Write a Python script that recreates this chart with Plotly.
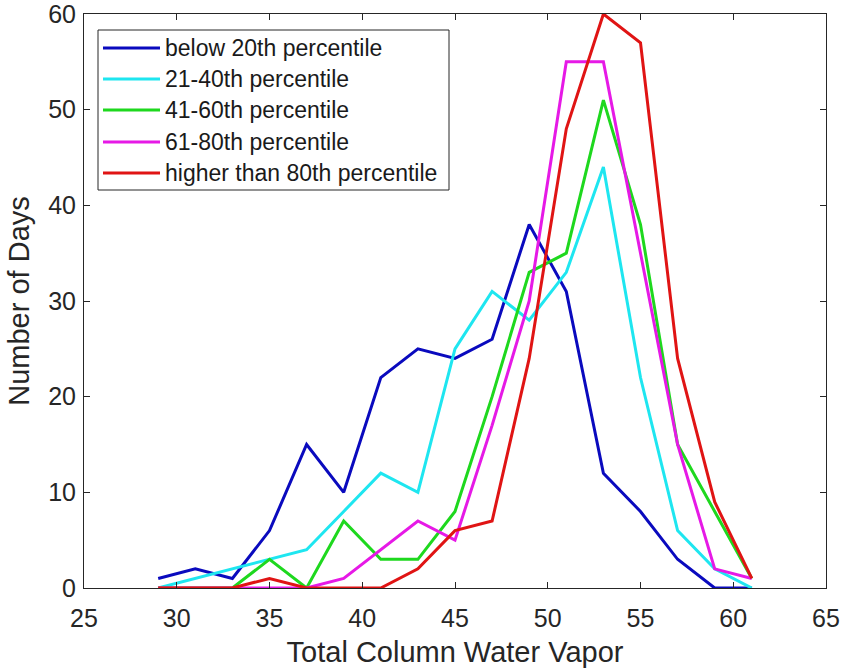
import plotly.graph_objects as go

tcwv = [29, 31, 33, 35, 37, 39, 41, 43, 45, 47, 49, 51, 53, 55, 57, 59, 61]

below20 = [1, 2, 1, 6, 15, 10, 22, 25, 24, 26, 38, 31, 12, 8, 3, 0, 0]
p21_40 = [0, 1, 2, 3, 4, 8, 12, 10, 25, 31, 28, 33, 44, 22, 6, 2, 0]
p41_60 = [0, 0, 0, 3, 0, 7, 3, 3, 8, 20, 33, 35, 51, 38, 15, 8, 1]
p61_80 = [0, 0, 0, 0, 0, 1, 4, 7, 5, 17, 30, 55, 55, 35, 15, 2, 1]
above80 = [0, 0, 0, 1, 0, 0, 0, 2, 6, 7, 24, 48, 60, 57, 24, 9, 1]

series_names = ["below 20th percentile", "21-40th percentile", "41-60th percentile",
                "61-80th percentile", "higher than 80th percentile"]
series_values = [below20, p21_40, p41_60, p61_80, above80]
colors = ["#0A0ABE", "#1EE6F0", "#1ED81E", "#E619E6", "#E01414"]

x_ticks = [25, 30, 35, 40, 45, 50, 55, 60, 65]
y_ticks = [0, 10, 20, 30, 40, 50, 60]

fig = go.Figure()
for name, vals, c in zip(series_names, series_values, colors):
    fig.add_trace(go.Scatter(x=tcwv, y=vals, mode="lines", name=name,
                             line=dict(color=c, width=3), showlegend=False))

FONT = "Liberation Sans, Arial, Helvetica"
tick_font = dict(family=FONT, size=25, color="#262626")
title_font = dict(family=FONT, size=29, color="#262626")
axis_common = dict(showgrid=False, zeroline=False, showline=True, linecolor="#262626",
                   linewidth=1, mirror="ticks", ticks="inside", ticklen=6,
                   tickcolor="#262626", tickfont=tick_font, automargin=False,
                   ticklabeloverflow="allow")

fig.update_layout(
    width=844, height=668,
    margin=dict(l=84, r=18, t=14, b=80),
    plot_bgcolor="white", paper_bgcolor="white",
    xaxis=dict(range=[25, 65], tickvals=x_ticks, ticktext=[str(v) for v in x_ticks],
               ticklabelstandoff=8,
               title=dict(text="Total Column Water Vapor", font=title_font, standoff=12),
               **axis_common),
    yaxis=dict(range=[0, 60], tickvals=y_ticks, ticktext=[str(v) for v in y_ticks],
               ticklabelstandoff=2,
               title=dict(text="Number of Days", font=title_font, standoff=10),
               **axis_common),
)

# Custom legend box (MATLAB style)
L, T, R, B = 84, 14, 826, 588
def px(xp):
    return (xp - L) / (R - L)
def py(yp):
    return (B - yp) / (B - T)

fig.add_shape(type="rect", xref="paper", yref="paper",
              x0=px(98), x1=px(449), y0=py(190), y1=py(30),
              line=dict(color="#262626", width=1), fillcolor="white", layer="above")
entry_y = [48, 79, 110, 142, 173]
for name, c, ey in zip(series_names, colors, entry_y):
    fig.add_shape(type="line", xref="paper", yref="paper",
                  x0=px(103), x1=px(160), y0=py(ey), y1=py(ey),
                  line=dict(color=c, width=3), layer="above")
    fig.add_annotation(xref="paper", yref="paper", x=px(163), y=py(ey),
                       text=name, showarrow=False, xanchor="left", yanchor="middle",
                       font=dict(family=FONT, size=23, color="#1a1a1a"))

fig.write_html("out.html")
